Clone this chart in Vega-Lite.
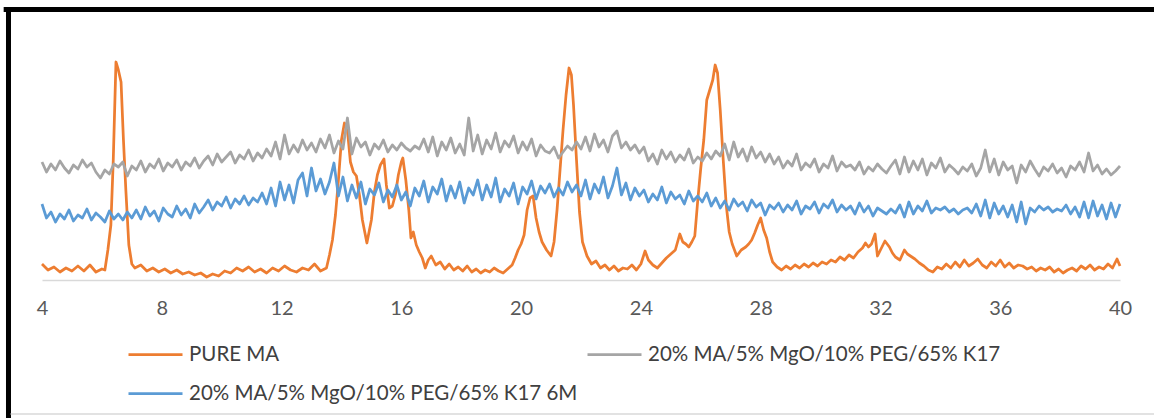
{
  "$schema": "https://vega.github.io/schema/vega-lite/v6.json",
  "width": 1078,
  "height": 240,
  "autosize": {"type": "none"},
  "padding": {"left": 42, "top": 40, "right": 34, "bottom": 138},
  "background": "white",
  "config": {
    "view": {"stroke": null},
    "axis": {"labelFont": "Lato", "labelFontSize": 20, "labelColor": "#595959"},
    "legend": {"labelFont": "Lato", "labelFontSize": 20.5, "labelColor": "#404040"}
  },
  "datasets": {
    "pure": [
      {"x":4.0,"y":16},{"x":4.2,"y":10},{"x":4.4,"y":13},{"x":4.6,"y":8},{"x":4.8,"y":12},{"x":5.0,"y":9},{"x":5.2,"y":14},{"x":5.4,"y":9},{"x":5.6,"y":15},{"x":5.8,"y":8},{"x":6.0,"y":11},{"x":6.1,"y":10},{"x":6.2,"y":30},{"x":6.3,"y":55},{"x":6.38,"y":120},{"x":6.47,"y":218},{"x":6.55,"y":210},{"x":6.64,"y":198},{"x":6.72,"y":140},{"x":6.8,"y":90},{"x":6.9,"y":35},{"x":7.0,"y":16},{"x":7.1,"y":12},{"x":7.3,"y":15},{"x":7.5,"y":9},{"x":7.7,"y":12},{"x":7.9,"y":8},{"x":8.1,"y":11},{"x":8.3,"y":7},{"x":8.5,"y":10},{"x":8.7,"y":6},{"x":8.9,"y":8},{"x":9.1,"y":5},{"x":9.3,"y":7},{"x":9.5,"y":3},{"x":9.7,"y":6},{"x":9.9,"y":4},{"x":10.1,"y":9},{"x":10.3,"y":7},{"x":10.5,"y":12},{"x":10.7,"y":9},{"x":10.9,"y":13},{"x":11.1,"y":8},{"x":11.3,"y":11},{"x":11.5,"y":7},{"x":11.7,"y":12},{"x":11.9,"y":9},{"x":12.1,"y":14},{"x":12.3,"y":10},{"x":12.5,"y":8},{"x":12.7,"y":12},{"x":12.9,"y":10},{"x":13.1,"y":16},{"x":13.3,"y":9},{"x":13.5,"y":12},{"x":13.6,"y":25},{"x":13.7,"y":40},{"x":13.8,"y":65},{"x":13.9,"y":100},{"x":14.0,"y":140},{"x":14.1,"y":157},{"x":14.2,"y":150},{"x":14.3,"y":118},{"x":14.4,"y":108},{"x":14.5,"y":104},{"x":14.6,"y":85},{"x":14.7,"y":60},{"x":14.85,"y":37},{"x":15.0,"y":60},{"x":15.1,"y":88},{"x":15.2,"y":105},{"x":15.3,"y":115},{"x":15.42,"y":121},{"x":15.5,"y":95},{"x":15.6,"y":72},{"x":15.7,"y":74},{"x":15.8,"y":85},{"x":15.9,"y":105},{"x":16.0,"y":118},{"x":16.05,"y":122},{"x":16.15,"y":100},{"x":16.25,"y":70},{"x":16.32,"y":42},{"x":16.4,"y":48},{"x":16.5,"y":35},{"x":16.6,"y":28},{"x":16.7,"y":22},{"x":16.8,"y":12},{"x":16.9,"y":20},{"x":17.0,"y":24},{"x":17.15,"y":15},{"x":17.3,"y":18},{"x":17.45,"y":11},{"x":17.6,"y":16},{"x":17.75,"y":10},{"x":17.9,"y":13},{"x":18.05,"y":9},{"x":18.2,"y":14},{"x":18.35,"y":8},{"x":18.5,"y":11},{"x":18.65,"y":7},{"x":18.8,"y":10},{"x":18.95,"y":8},{"x":19.1,"y":12},{"x":19.25,"y":9},{"x":19.4,"y":7},{"x":19.55,"y":11},{"x":19.7,"y":15},{"x":19.8,"y":22},{"x":19.9,"y":30},{"x":20.0,"y":36},{"x":20.1,"y":45},{"x":20.2,"y":70},{"x":20.3,"y":82},{"x":20.4,"y":84},{"x":20.5,"y":62},{"x":20.6,"y":48},{"x":20.7,"y":38},{"x":20.85,"y":30},{"x":21.0,"y":24},{"x":21.1,"y":38},{"x":21.2,"y":70},{"x":21.3,"y":110},{"x":21.4,"y":150},{"x":21.5,"y":185},{"x":21.6,"y":212},{"x":21.68,"y":205},{"x":21.75,"y":175},{"x":21.85,"y":120},{"x":21.95,"y":68},{"x":22.05,"y":38},{"x":22.2,"y":24},{"x":22.35,"y":16},{"x":22.5,"y":19},{"x":22.65,"y":12},{"x":22.8,"y":15},{"x":22.95,"y":10},{"x":23.1,"y":14},{"x":23.25,"y":9},{"x":23.4,"y":12},{"x":23.55,"y":11},{"x":23.7,"y":15},{"x":23.85,"y":10},{"x":24.0,"y":16},{"x":24.14,"y":29},{"x":24.25,"y":20},{"x":24.4,"y":15},{"x":24.55,"y":12},{"x":24.7,"y":17},{"x":24.85,"y":22},{"x":25.0,"y":26},{"x":25.15,"y":30},{"x":25.3,"y":46},{"x":25.4,"y":38},{"x":25.5,"y":36},{"x":25.6,"y":33},{"x":25.7,"y":38},{"x":25.8,"y":44},{"x":25.9,"y":80},{"x":26.0,"y":112},{"x":26.1,"y":140},{"x":26.2,"y":180},{"x":26.3,"y":190},{"x":26.4,"y":200},{"x":26.48,"y":215},{"x":26.56,"y":207},{"x":26.65,"y":170},{"x":26.75,"y":120},{"x":26.85,"y":75},{"x":26.95,"y":48},{"x":27.05,"y":36},{"x":27.2,"y":24},{"x":27.35,"y":30},{"x":27.5,"y":33},{"x":27.6,"y":36},{"x":27.7,"y":40},{"x":27.8,"y":47},{"x":27.9,"y":55},{"x":28.0,"y":62},{"x":28.1,"y":50},{"x":28.2,"y":42},{"x":28.3,"y":28},{"x":28.4,"y":18},{"x":28.55,"y":13},{"x":28.7,"y":10},{"x":28.85,"y":14},{"x":29.0,"y":11},{"x":29.15,"y":15},{"x":29.3,"y":12},{"x":29.45,"y":16},{"x":29.6,"y":13},{"x":29.75,"y":17},{"x":29.9,"y":14},{"x":30.05,"y":18},{"x":30.2,"y":16},{"x":30.35,"y":20},{"x":30.5,"y":18},{"x":30.65,"y":23},{"x":30.8,"y":20},{"x":30.95,"y":25},{"x":31.1,"y":22},{"x":31.25,"y":28},{"x":31.4,"y":32},{"x":31.5,"y":37},{"x":31.6,"y":33},{"x":31.7,"y":36},{"x":31.82,"y":46},{"x":31.9,"y":24},{"x":32.0,"y":30},{"x":32.15,"y":39},{"x":32.3,"y":33},{"x":32.4,"y":27},{"x":32.5,"y":23},{"x":32.65,"y":20},{"x":32.8,"y":30},{"x":32.9,"y":26},{"x":33.0,"y":24},{"x":33.15,"y":21},{"x":33.3,"y":17},{"x":33.45,"y":14},{"x":33.6,"y":10},{"x":33.75,"y":8},{"x":33.9,"y":13},{"x":34.05,"y":11},{"x":34.2,"y":16},{"x":34.35,"y":12},{"x":34.5,"y":18},{"x":34.65,"y":13},{"x":34.8,"y":20},{"x":34.95,"y":14},{"x":35.1,"y":17},{"x":35.25,"y":21},{"x":35.4,"y":15},{"x":35.55,"y":12},{"x":35.7,"y":18},{"x":35.85,"y":14},{"x":36.0,"y":20},{"x":36.15,"y":13},{"x":36.3,"y":17},{"x":36.45,"y":12},{"x":36.6,"y":15},{"x":36.75,"y":14},{"x":36.9,"y":11},{"x":37.05,"y":13},{"x":37.2,"y":9},{"x":37.35,"y":12},{"x":37.5,"y":10},{"x":37.65,"y":13},{"x":37.8,"y":8},{"x":37.95,"y":11},{"x":38.1,"y":7},{"x":38.25,"y":10},{"x":38.4,"y":12},{"x":38.55,"y":9},{"x":38.7,"y":14},{"x":38.85,"y":11},{"x":39.0,"y":15},{"x":39.15,"y":10},{"x":39.3,"y":13},{"x":39.45,"y":11},{"x":39.6,"y":16},{"x":39.75,"y":12},{"x":39.9,"y":21},{"x":40.0,"y":14}
    ],
    "k17": [
      {"x":4.0,"y":118},{"x":4.15,"y":108},{"x":4.3,"y":116},{"x":4.45,"y":110},{"x":4.6,"y":119},{"x":4.75,"y":112},{"x":4.9,"y":107},{"x":5.05,"y":115},{"x":5.2,"y":111},{"x":5.35,"y":120},{"x":5.5,"y":113},{"x":5.65,"y":117},{"x":5.8,"y":108},{"x":5.95,"y":102},{"x":6.1,"y":110},{"x":6.25,"y":106},{"x":6.4,"y":116},{"x":6.55,"y":113},{"x":6.7,"y":118},{"x":6.85,"y":104},{"x":7.0,"y":114},
      {"x":7.15,"y":110},{"x":7.3,"y":119},{"x":7.45,"y":108},{"x":7.6,"y":116},{"x":7.75,"y":112},{"x":7.9,"y":121},{"x":8.05,"y":109},{"x":8.2,"y":117},{"x":8.35,"y":113},{"x":8.5,"y":120},{"x":8.65,"y":110},{"x":8.8,"y":118},{"x":8.95,"y":114},{"x":9.1,"y":122},{"x":9.25,"y":112},
      {"x":9.4,"y":119},{"x":9.55,"y":124},{"x":9.7,"y":115},{"x":9.85,"y":126},{"x":10.0,"y":118},{"x":10.15,"y":123},{"x":10.3,"y":128},{"x":10.45,"y":117},{"x":10.6,"y":125},{"x":10.75,"y":121},{"x":10.9,"y":130},{"x":11.05,"y":119},{"x":11.2,"y":127},{"x":11.35,"y":122},{"x":11.5,"y":131},
      {"x":11.65,"y":124},{"x":11.8,"y":138},{"x":11.95,"y":121},{"x":12.1,"y":145},{"x":12.25,"y":126},{"x":12.4,"y":135},{"x":12.55,"y":128},{"x":12.7,"y":140},{"x":12.85,"y":130},{"x":13.0,"y":137},
      {"x":13.15,"y":128},{"x":13.3,"y":141},{"x":13.45,"y":132},{"x":13.6,"y":145},{"x":13.75,"y":127},{"x":13.9,"y":139},{"x":14.05,"y":131},{"x":14.2,"y":162},{"x":14.35,"y":126},{"x":14.5,"y":142},{"x":14.65,"y":133},{"x":14.8,"y":138},{"x":14.95,"y":125},{"x":15.1,"y":136},{"x":15.25,"y":131},{"x":15.4,"y":140},{"x":15.55,"y":128},{"x":15.7,"y":135},{"x":15.85,"y":130},{"x":16.0,"y":137},{"x":16.15,"y":132},{"x":16.3,"y":129},{"x":16.45,"y":134},{"x":16.6,"y":131},{"x":16.75,"y":141},{"x":16.9,"y":128},{"x":17.05,"y":143},{"x":17.2,"y":124},{"x":17.35,"y":138},{"x":17.5,"y":130},{"x":17.65,"y":142},{"x":17.8,"y":127},{"x":17.95,"y":136},{"x":18.1,"y":125},{"x":18.25,"y":162},{"x":18.4,"y":129},{"x":18.55,"y":145},{"x":18.7,"y":126},{"x":18.85,"y":140},{"x":19.0,"y":131},{"x":19.15,"y":147},{"x":19.3,"y":128},{"x":19.45,"y":139},{"x":19.6,"y":133},{"x":19.75,"y":144},{"x":19.9,"y":127},{"x":20.05,"y":138},{"x":20.2,"y":130},{"x":20.35,"y":141},{"x":20.5,"y":124},{"x":20.65,"y":135},{"x":20.8,"y":129},{"x":20.95,"y":127},{"x":21.1,"y":133},{"x":21.25,"y":122},{"x":21.4,"y":128},{"x":21.55,"y":134},{"x":21.7,"y":130},
      {"x":21.85,"y":138},{"x":22.0,"y":131},{"x":22.15,"y":143},{"x":22.3,"y":129},{"x":22.45,"y":146},{"x":22.6,"y":133},{"x":22.75,"y":140},{"x":22.9,"y":128},{"x":23.05,"y":144},{"x":23.2,"y":149},{"x":23.35,"y":132},{"x":23.5,"y":138},{"x":23.65,"y":130},{"x":23.8,"y":135},{"x":23.95,"y":127},
      {"x":24.1,"y":133},{"x":24.25,"y":119},{"x":24.4,"y":126},{"x":24.55,"y":116},{"x":24.7,"y":130},{"x":24.85,"y":121},{"x":25.0,"y":128},{"x":25.15,"y":118},{"x":25.3,"y":125},{"x":25.45,"y":120},{"x":25.6,"y":131},{"x":25.75,"y":117},{"x":25.9,"y":123},{"x":26.05,"y":119},{"x":26.2,"y":127},
      {"x":26.35,"y":121},{"x":26.5,"y":129},{"x":26.65,"y":124},{"x":26.8,"y":136},{"x":26.95,"y":120},{"x":27.1,"y":138},{"x":27.25,"y":123},{"x":27.4,"y":131},{"x":27.55,"y":119},{"x":27.7,"y":133},{"x":27.85,"y":122},{"x":28.0,"y":128},{"x":28.15,"y":118},{"x":28.3,"y":126},{"x":28.45,"y":116},
      {"x":28.6,"y":123},{"x":28.75,"y":112},{"x":28.9,"y":119},{"x":29.05,"y":114},{"x":29.2,"y":126},{"x":29.35,"y":110},{"x":29.5,"y":117},{"x":29.65,"y":113},{"x":29.8,"y":121},{"x":29.95,"y":108},{"x":30.1,"y":116},{"x":30.25,"y":112},{"x":30.4,"y":124},{"x":30.55,"y":109},{"x":30.7,"y":118},{"x":30.85,"y":113},{"x":31.0,"y":115},
      {"x":31.15,"y":110},{"x":31.3,"y":118},{"x":31.45,"y":106},{"x":31.6,"y":113},{"x":31.75,"y":109},{"x":31.9,"y":116},{"x":32.05,"y":111},{"x":32.2,"y":107},{"x":32.35,"y":114},{"x":32.5,"y":120},{"x":32.65,"y":106},{"x":32.8,"y":123},{"x":32.95,"y":108},{"x":33.1,"y":119},{"x":33.25,"y":110},{"x":33.4,"y":121},{"x":33.55,"y":105},{"x":33.7,"y":117},{"x":33.85,"y":112},{"x":34.0,"y":122},{"x":34.15,"y":108},{"x":34.3,"y":115},{"x":34.45,"y":111},{"x":34.6,"y":106},{"x":34.75,"y":113},{"x":34.9,"y":109},{"x":35.05,"y":116},{"x":35.2,"y":104},{"x":35.35,"y":112},{"x":35.5,"y":130},{"x":35.65,"y":108},{"x":35.8,"y":121},{"x":35.95,"y":105},{"x":36.1,"y":118},{"x":36.25,"y":110},{"x":36.4,"y":114},{"x":36.55,"y":97},{"x":36.7,"y":115},{"x":36.85,"y":108},{"x":37.0,"y":119},{"x":37.15,"y":111},{"x":37.3,"y":104},{"x":37.45,"y":113},{"x":37.6,"y":109},{"x":37.75,"y":116},{"x":37.9,"y":107},{"x":38.05,"y":112},{"x":38.2,"y":103},{"x":38.35,"y":114},{"x":38.5,"y":110},{"x":38.65,"y":118},{"x":38.8,"y":108},{"x":38.95,"y":127},{"x":39.1,"y":109},{"x":39.25,"y":115},{"x":39.4,"y":106},{"x":39.55,"y":111},{"x":39.7,"y":105},{"x":39.85,"y":109},{"x":40.0,"y":114}
    ],
    "k17m": [
      {"x":4.0,"y":76},{"x":4.15,"y":62},{"x":4.3,"y":68},{"x":4.45,"y":58},{"x":4.6,"y":66},{"x":4.75,"y":61},{"x":4.9,"y":70},{"x":5.05,"y":59},{"x":5.2,"y":65},{"x":5.35,"y":62},{"x":5.5,"y":71},{"x":5.65,"y":60},{"x":5.8,"y":67},{"x":5.95,"y":63},{"x":6.1,"y":58},{"x":6.25,"y":69},{"x":6.4,"y":61},{"x":6.55,"y":66},{"x":6.7,"y":60},{"x":6.85,"y":68},{"x":7.0,"y":62},
      {"x":7.15,"y":70},{"x":7.3,"y":61},{"x":7.45,"y":73},{"x":7.6,"y":64},{"x":7.75,"y":69},{"x":7.9,"y":59},{"x":8.05,"y":72},{"x":8.2,"y":66},{"x":8.35,"y":63},{"x":8.5,"y":74},{"x":8.65,"y":65},{"x":8.8,"y":71},{"x":8.95,"y":62},{"x":9.1,"y":76},{"x":9.25,"y":67},
      {"x":9.4,"y":73},{"x":9.55,"y":80},{"x":9.7,"y":70},{"x":9.85,"y":78},{"x":10.0,"y":74},{"x":10.15,"y":83},{"x":10.3,"y":72},{"x":10.45,"y":81},{"x":10.6,"y":76},{"x":10.75,"y":84},{"x":10.9,"y":75},{"x":11.05,"y":82},{"x":11.2,"y":78},{"x":11.35,"y":87},{"x":11.5,"y":76},
      {"x":11.65,"y":92},{"x":11.8,"y":74},{"x":11.95,"y":98},{"x":12.1,"y":80},{"x":12.25,"y":95},{"x":12.4,"y":77},{"x":12.55,"y":100},{"x":12.7,"y":107},{"x":12.85,"y":84},{"x":13.0,"y":112},
      {"x":13.15,"y":89},{"x":13.3,"y":101},{"x":13.45,"y":86},{"x":13.6,"y":98},{"x":13.75,"y":117},{"x":13.9,"y":84},{"x":14.05,"y":103},{"x":14.2,"y":79},{"x":14.35,"y":95},{"x":14.5,"y":82},{"x":14.65,"y":98},{"x":14.8,"y":76},{"x":14.95,"y":91},{"x":15.1,"y":85},{"x":15.25,"y":97},{"x":15.4,"y":78},{"x":15.55,"y":90},{"x":15.7,"y":83},{"x":15.85,"y":95},{"x":16.0,"y":80},{"x":16.15,"y":88},{"x":16.3,"y":74},{"x":16.45,"y":92},{"x":16.6,"y":84},{"x":16.75,"y":99},{"x":16.9,"y":78},{"x":17.05,"y":93},{"x":17.2,"y":86},{"x":17.35,"y":101},{"x":17.5,"y":79},{"x":17.65,"y":94},{"x":17.8,"y":82},{"x":17.95,"y":98},{"x":18.1,"y":77},{"x":18.25,"y":92},{"x":18.4,"y":85},{"x":18.55,"y":100},{"x":18.7,"y":80},{"x":18.85,"y":95},{"x":19.0,"y":83},{"x":19.15,"y":102},{"x":19.3,"y":78},{"x":19.45,"y":91},{"x":19.6,"y":84},{"x":19.75,"y":97},{"x":19.9,"y":76},{"x":20.05,"y":93},{"x":20.2,"y":86},{"x":20.35,"y":99},{"x":20.5,"y":81},{"x":20.65,"y":94},{"x":20.8,"y":87},{"x":20.95,"y":96},{"x":21.1,"y":83},{"x":21.25,"y":92},{"x":21.4,"y":85},{"x":21.55,"y":98},{"x":21.7,"y":88},
      {"x":21.85,"y":95},{"x":22.0,"y":84},{"x":22.15,"y":100},{"x":22.3,"y":81},{"x":22.45,"y":96},{"x":22.6,"y":87},{"x":22.75,"y":103},{"x":22.9,"y":82},{"x":23.05,"y":94},{"x":23.2,"y":112},{"x":23.35,"y":85},{"x":23.5,"y":97},{"x":23.65,"y":80},{"x":23.8,"y":92},{"x":23.95,"y":84},
      {"x":24.1,"y":90},{"x":24.25,"y":78},{"x":24.4,"y":86},{"x":24.55,"y":80},{"x":24.7,"y":93},{"x":24.85,"y":77},{"x":25.0,"y":88},{"x":25.15,"y":81},{"x":25.3,"y":85},{"x":25.45,"y":76},{"x":25.6,"y":89},{"x":25.75,"y":79},{"x":25.9,"y":84},{"x":26.05,"y":78},{"x":26.2,"y":87},
      {"x":26.35,"y":74},{"x":26.5,"y":82},{"x":26.65,"y":72},{"x":26.8,"y":79},{"x":26.95,"y":70},{"x":27.1,"y":81},{"x":27.25,"y":74},{"x":27.4,"y":78},{"x":27.55,"y":69},{"x":27.7,"y":80},{"x":27.85,"y":73},{"x":28.0,"y":77},{"x":28.15,"y":65},{"x":28.3,"y":75},{"x":28.45,"y":71},
      {"x":28.6,"y":77},{"x":28.75,"y":68},{"x":28.9,"y":75},{"x":29.05,"y":70},{"x":29.2,"y":79},{"x":29.35,"y":66},{"x":29.5,"y":74},{"x":29.65,"y":71},{"x":29.8,"y":78},{"x":29.95,"y":67},{"x":30.1,"y":76},{"x":30.25,"y":72},{"x":30.4,"y":80},{"x":30.55,"y":68},{"x":30.7,"y":75},{"x":30.85,"y":70},{"x":31.0,"y":74},
      {"x":31.15,"y":66},{"x":31.3,"y":77},{"x":31.45,"y":68},{"x":31.6,"y":74},{"x":31.75,"y":64},{"x":31.9,"y":72},{"x":32.05,"y":69},{"x":32.2,"y":66},{"x":32.35,"y":71},{"x":32.5,"y":67},{"x":32.65,"y":75},{"x":32.8,"y":63},{"x":32.95,"y":78},{"x":33.1,"y":66},{"x":33.25,"y":74},{"x":33.4,"y":69},{"x":33.55,"y":79},{"x":33.7,"y":67},{"x":33.85,"y":72},{"x":34.0,"y":70},{"x":34.15,"y":73},{"x":34.3,"y":68},{"x":34.45,"y":71},{"x":34.6,"y":66},{"x":34.75,"y":70},{"x":34.9,"y":72},{"x":35.05,"y":67},{"x":35.2,"y":76},{"x":35.35,"y":64},{"x":35.5,"y":80},{"x":35.65,"y":62},{"x":35.8,"y":77},{"x":35.95,"y":66},{"x":36.1,"y":74},{"x":36.25,"y":63},{"x":36.4,"y":75},{"x":36.55,"y":58},{"x":36.7,"y":78},{"x":36.85,"y":56},{"x":37.0,"y":72},{"x":37.15,"y":68},{"x":37.3,"y":74},{"x":37.45,"y":70},{"x":37.6,"y":73},{"x":37.75,"y":68},{"x":37.9,"y":71},{"x":38.05,"y":69},{"x":38.2,"y":75},{"x":38.35,"y":66},{"x":38.5,"y":73},{"x":38.65,"y":63},{"x":38.8,"y":78},{"x":38.95,"y":62},{"x":39.1,"y":79},{"x":39.25,"y":64},{"x":39.4,"y":75},{"x":39.55,"y":61},{"x":39.7,"y":77},{"x":39.85,"y":63},{"x":40.0,"y":76}
    ],
    "one": [{}]
  },
  "layer": [
    {
      "data": {"name": "pure"},
      "mark": {"type": "line", "strokeWidth": 2.75, "strokeJoin": "round"},
      "encoding": {
        "x": {"field": "x", "type": "quantitative", "scale": {"domain": [4, 40], "nice": false, "zero": false},
              "axis": {"values": [4, 8, 12, 16, 20, 24, 28, 32, 36, 40], "title": null, "grid": false, "ticks": false, "domainColor": "#D9D9D9", "domainWidth": 1.5, "labelPadding": 18, "labelFlush": false}},
        "y": {"field": "y", "type": "quantitative", "scale": {"domain": [0, 240], "nice": false, "zero": false}, "axis": null},
        "color": {"datum": "PURE MA", "type": "nominal",
                  "scale": {"domain": ["PURE MA", "20% MA/5% MgO/10% PEG/65% K17", "20% MA/5% MgO/10% PEG/65% K17 6M"], "range": ["#ED7D31", "#A5A5A5", "#5B9BD5"]},
                  "legend": {"title": null, "orient": "none", "legendX": 85, "legendY": 286, "direction": "horizontal", "columns": 2, "symbolType": "stroke", "symbolSize": 2916, "symbolStrokeWidth": 2.75, "labelOffset": 5, "columnPadding": 4, "rowPadding": -2, "labelLimit": 0}}
      }
    },
    {
      "data": {"name": "k17"},
      "mark": {"type": "line", "strokeWidth": 2.75, "strokeJoin": "round"},
      "encoding": {
        "x": {"field": "x", "type": "quantitative", "scale": {"domain": [4, 40], "nice": false, "zero": false}},
        "y": {"field": "y", "type": "quantitative", "scale": {"domain": [0, 240], "nice": false, "zero": false}},
        "color": {"datum": "20% MA/5% MgO/10% PEG/65% K17", "type": "nominal"}
      }
    },
    {
      "data": {"name": "k17m"},
      "mark": {"type": "line", "strokeWidth": 2.75, "strokeJoin": "round"},
      "encoding": {
        "x": {"field": "x", "type": "quantitative", "scale": {"domain": [4, 40], "nice": false, "zero": false}},
        "y": {"field": "y", "type": "quantitative", "scale": {"domain": [0, 240], "nice": false, "zero": false}},
        "color": {"datum": "20% MA/5% MgO/10% PEG/65% K17 6M", "type": "nominal"}
      }
    },
    {
      "data": {"name": "one"},
      "mark": {"type": "rule", "color": "black", "strokeWidth": 5, "clip": false},
      "encoding": {
        "x": {"datum": 2.72, "type": "quantitative", "scale": {"domain": [4, 40], "nice": false, "zero": false}},
        "x2": {"datum": 41.2},
        "y": {"datum": 270.5, "type": "quantitative", "scale": {"domain": [0, 240], "nice": false, "zero": false}}
      }
    },
    {
      "data": {"name": "one"},
      "mark": {"type": "rule", "color": "black", "strokeWidth": 5, "clip": false},
      "encoding": {
        "x": {"datum": 2.881, "type": "quantitative", "scale": {"domain": [4, 40], "nice": false, "zero": false}},
        "y": {"datum": 273, "type": "quantitative", "scale": {"domain": [0, 240], "nice": false, "zero": false}},
        "y2": {"datum": -140}
      }
    },
    {
      "data": {"name": "one"},
      "mark": {"type": "rule", "color": "#D9D9D9", "strokeWidth": 1.5, "clip": false},
      "encoding": {
        "x": {"datum": 2.95, "type": "quantitative", "scale": {"domain": [4, 40], "nice": false, "zero": false}},
        "x2": {"datum": 41.2},
        "y": {"datum": -134, "type": "quantitative", "scale": {"domain": [0, 240], "nice": false, "zero": false}}
      }
    }
  ]
}
